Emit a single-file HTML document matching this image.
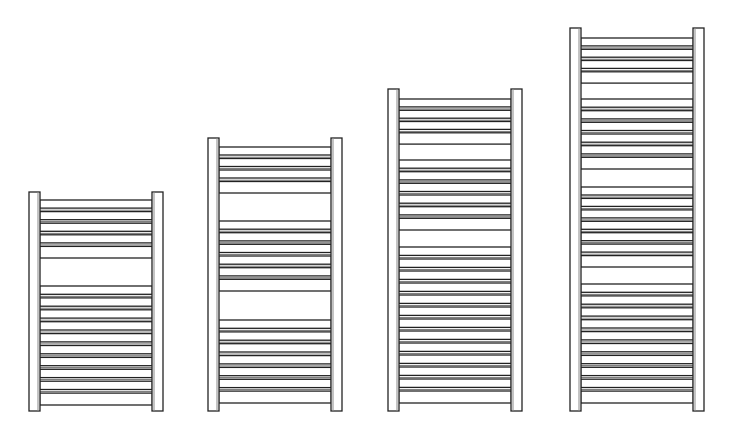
<!DOCTYPE html>
<html><head><meta charset="utf-8"><style>html,body{margin:0;padding:0;background:#fff}svg{display:block}</style></head>
<body>
<svg id="s" width="742" height="435" viewBox="0 0 742 435" xmlns="http://www.w3.org/2000/svg"></svg>
<script>
const R=[
 {x:29,top:192,bot:411,groups:[[200,258],[286,405]]},
 {x:208,top:138,bot:411,groups:[[147,193],[221,291],[320,403]]},
 {x:388,top:89,bot:411,groups:[[99,144],[160,230],[247,403]]},
 {x:570,top:28,bot:411,groups:[[38,83],[99,169],[187,267],[284,403]]}
];
let h='';
for(const r of R){
 const W=134,rw=11,xl=r.x+rw,xr=r.x+W-rw;
 for(const g of r.groups){
  const n=Math.max(1,Math.round((g[1]-g[0])/12));
  const p=(g[1]-g[0])/n;
  for(let i=0;i<n;i++){
   const y=g[0]+i*p;
   const bh=(i==n-1)?(g[1]-y):p*0.7;
   h+=`<rect x="${xl}" y="${y.toFixed(1)}" width="${xr-xl}" height="${bh.toFixed(1)}" fill="#fff" stroke="#222" stroke-width="1.3"/>`;
   if(i<n-1) h+=`<line x1="${xl}" y1="${(y+p*0.7+2).toFixed(1)}" x2="${xr}" y2="${(y+p*0.7+2).toFixed(1)}" stroke="#555" stroke-width="0.8"/>`;
  }
 }
 h+=`<rect x="${r.x}" y="${r.top}" width="${rw}" height="${r.bot-r.top}" fill="#fff" stroke="#222" stroke-width="1.3"/>`;
 h+=`<rect x="${r.x+W-rw}" y="${r.top}" width="${rw}" height="${r.bot-r.top}" fill="#fff" stroke="#222" stroke-width="1.3"/>`;
 h+=`<line x1="${r.x+rw-2}" y1="${r.top}" x2="${r.x+rw-2}" y2="${r.bot}" stroke="#888" stroke-width="1"/>`;
 h+=`<line x1="${r.x+W-rw+2}" y1="${r.top}" x2="${r.x+W-rw+2}" y2="${r.bot}" stroke="#888" stroke-width="1"/>`;
}
document.getElementById('s').innerHTML=h;
</script>
</body></html>
